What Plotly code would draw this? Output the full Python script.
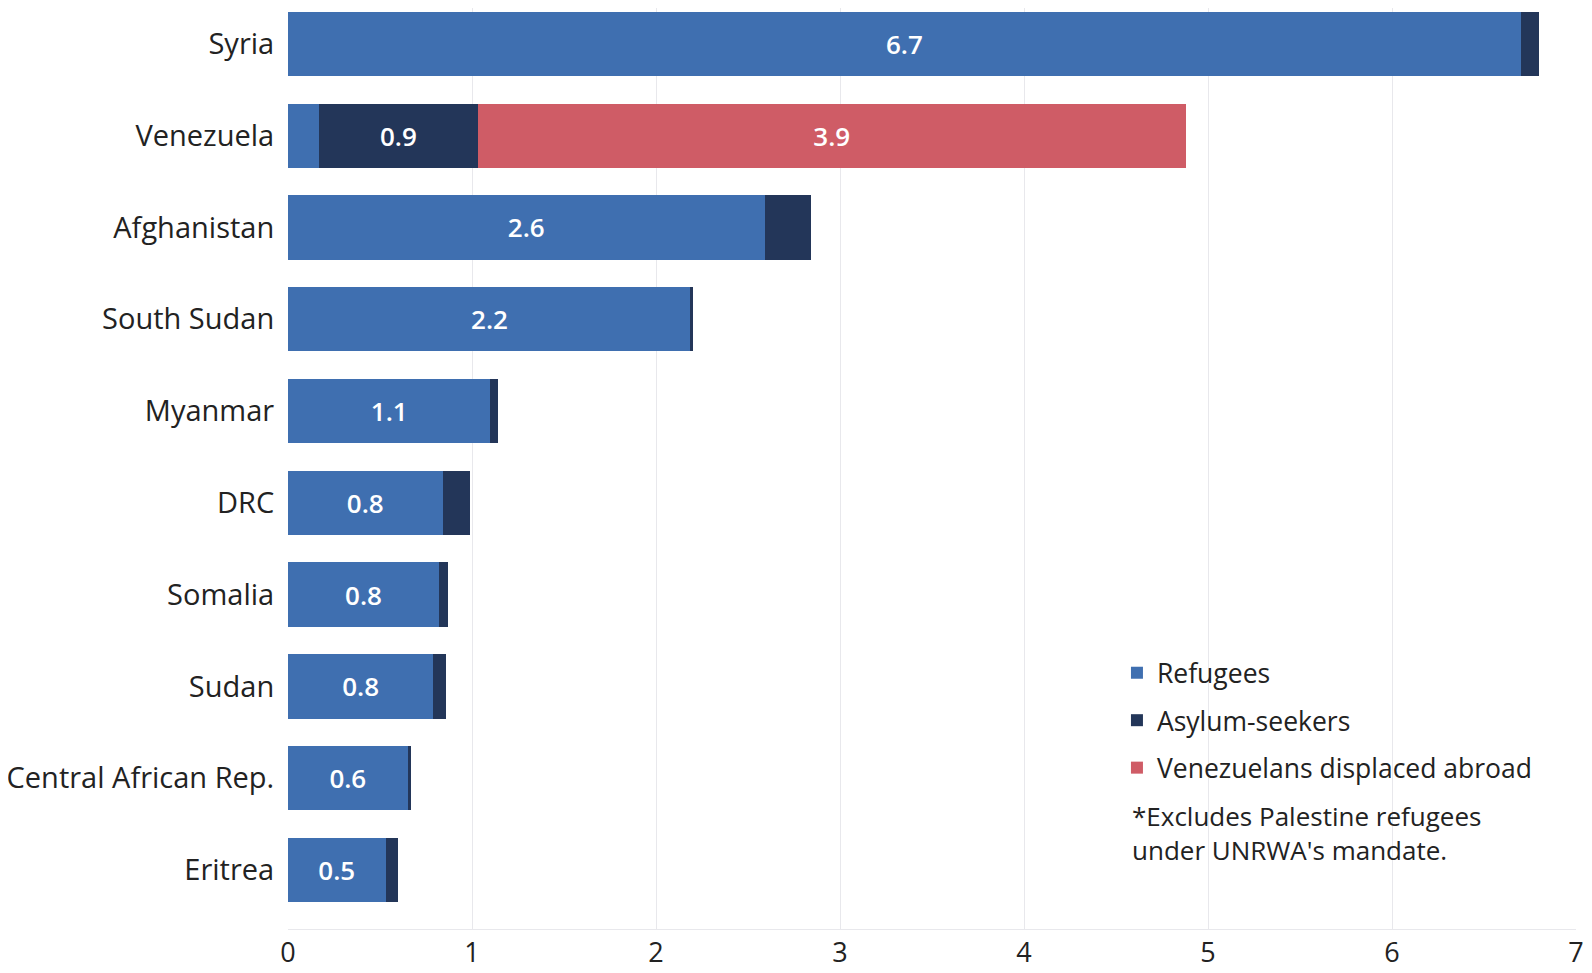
import plotly.graph_objects as go

countries = ["Syria", "Venezuela", "Afghanistan", "South Sudan", "Myanmar", "DRC",
             "Somalia", "Sudan", "Central African Rep.", "Eritrea"]
refugees = [6.70, 0.17, 2.59, 2.19, 1.10, 0.84, 0.82, 0.79, 0.65, 0.53]
asylum = [0.10, 0.86, 0.25, 0.01, 0.04, 0.15, 0.05, 0.07, 0.02, 0.07]
venezuelans = [0, 3.85, 0, 0, 0, 0, 0, 0, 0, 0]
ref_labels = ["6.7", "", "2.6", "2.2", "1.1", "0.8", "0.8", "0.8", "0.6", "0.5"]
asy_labels = ["", "0.9", "", "", "", "", "", "", "", ""]
ven_labels = ["", "3.9", "", "", "", "", "", "", "", ""]
x_ticks = [0, 1, 2, 3, 4, 5, 6, 7]

FONT = "Open Sans"
C_REF = "#3f6fb0"
C_ASY = "#233659"
C_VEN = "#cf5c66"
TXT = "#222222"

fig = go.Figure()
for name, vals, labels, col in [
    ("Refugees", refugees, ref_labels, C_REF),
    ("Asylum-seekers", asylum, asy_labels, C_ASY),
    ("Venezuelans displaced abroad", venezuelans, ven_labels, C_VEN),
]:
    fig.add_trace(go.Bar(
        y=countries, x=vals, name=name, orientation="h", legendgroup=name,
        marker=dict(color=col, line=dict(width=0)),
        text=labels, textposition="inside", insidetextanchor="middle",
        textfont=dict(color="white", size=26, family=FONT, weight=600),
        cliponaxis=False, hoverinfo="x+y+name",
    ))

fig.update_layout(
    barmode="stack", bargap=0.30,
    width=1590, height=970,
    margin=dict(l=280, r=22, t=0, b=49),
    plot_bgcolor="white", paper_bgcolor="white",
    font=dict(family=FONT, size=26, color=TXT),
    uniformtext=dict(mode="show", minsize=10),
    xaxis=dict(range=[0, 7], tickvals=x_ticks, showgrid=True, gridcolor="#e8e8ec",
               gridwidth=1, zeroline=False, showline=True, linecolor="#e8e8ec",
               linewidth=1,
               tickfont=dict(size=27, family=FONT, color=TXT), ticks="outside",
               ticklen=0, tickcolor="rgba(0,0,0,0)", automargin=False),
    yaxis=dict(categoryorder="array", categoryarray=countries[::-1],
               range=[-0.643, 9.391],
               tickfont=dict(size=29, family=FONT, color=TXT),
               ticks="outside", ticklen=7, tickcolor="rgba(0,0,0,0)", showgrid=False,
               automargin=False),
    legend=dict(x=0.6436, y=0.304, xanchor="left", yanchor="top",
                font=dict(size=26.5, family=FONT, color=TXT),
                tracegroupgap=10, itemwidth=30, bgcolor="rgba(0,0,0,0)",
                traceorder="grouped"),
    showlegend=True,
)
fig.add_annotation(
    xref="paper", yref="paper", x=0.654, y=0.144, xanchor="left", yanchor="top",
    text="*Excludes Palestine refugees<br>under UNRWA's mandate.",
    showarrow=False, align="left",
    font=dict(size=26, family=FONT, color=TXT),
)
fig.write_html("out.html")
